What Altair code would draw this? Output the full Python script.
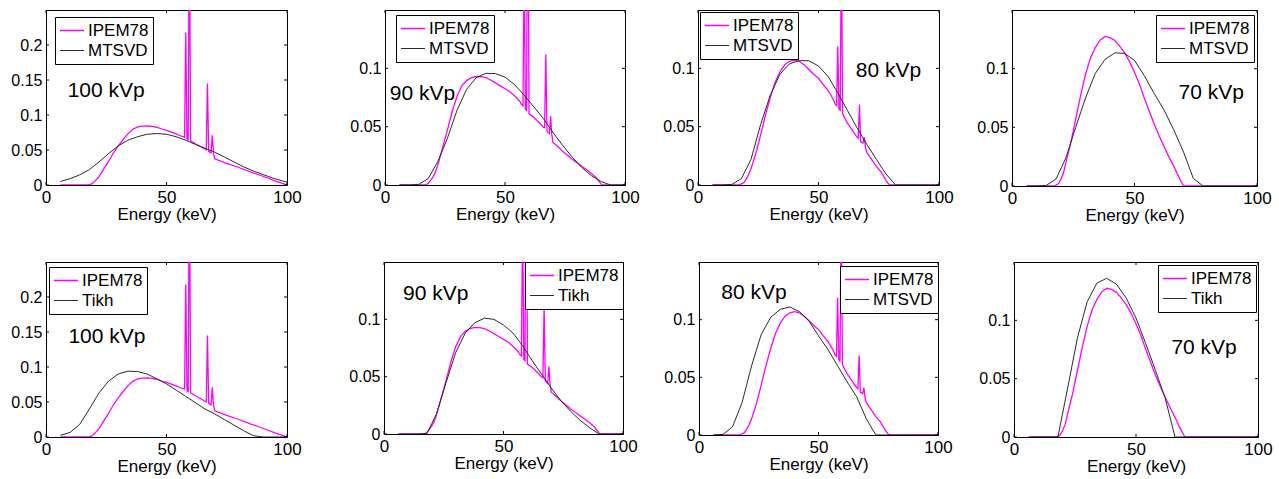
import altair as alt
import pandas as pd

FONT = "Liberation Sans"
PINK = "#ff00ff"
DARK = "#2a2a2a"

XTICKS = [0, 50, 100]
YTICKS_100 = [0, 0.05, 0.1, 0.15, 0.2]
YTICKS = [0, 0.05, 0.1]

# ---- IPEM78 reference spectra ----
E_IPEM100 = [6, 17, 18, 19, 20, 21, 22, 24, 26, 28, 30, 32, 34, 36, 38, 40, 42, 44, 46, 48, 50, 52, 54, 56,
             57, 57.5, 58, 58.5, 59, 59.5, 60, 62, 64, 66, 66.5, 67, 67.5, 68, 68.5, 69, 69.5, 70,
             75, 80, 85, 90, 95, 100]
V_IPEM100 = [0, 0, 0.0005, 0.0015, 0.0045, 0.008, 0.012, 0.023, 0.034, 0.046, 0.056, 0.065, 0.073, 0.0795,
             0.083, 0.084, 0.0843, 0.0838, 0.0825, 0.080, 0.078, 0.0755, 0.073, 0.070,
             0.069, 0.0685, 0.218, 0.066, 0.065, 0.40, 0.063, 0.059, 0.055, 0.051, 0.050, 0.145, 0.048,
             0.047, 0.046, 0.071, 0.045, 0.0375, 0.031, 0.025, 0.0185, 0.0125, 0.006, 0]

E_IPEM90 = [6, 17, 18, 19, 20, 21, 22, 24, 26, 28, 30, 32, 34, 36, 38, 40, 42, 44, 46, 48, 50, 52, 54, 56,
            57, 57.5, 58, 58.5, 59, 59.5, 60, 62, 64, 66, 66.5, 67, 67.5, 68, 68.5, 69, 69.5, 70,
            72, 74, 76, 78, 80, 82, 84, 86, 88, 89, 90, 91, 100]
V_IPEM90 = [0, 0, 0.0015, 0.004, 0.007, 0.011, 0.017, 0.032, 0.047, 0.063, 0.076, 0.085, 0.0895, 0.092,
            0.093, 0.0928, 0.092, 0.090, 0.0875, 0.085, 0.0825, 0.080, 0.0765, 0.072,
            0.069, 0.068, 0.19, 0.065, 0.064, 0.33, 0.061, 0.058, 0.054, 0.0495, 0.049, 0.112, 0.046,
            0.045, 0.044, 0.059, 0.043, 0.0365, 0.033, 0.029, 0.0255, 0.022, 0.019, 0.016, 0.013,
            0.0098, 0.0063, 0.0035, 0.0008, 0, 0]

E_IPEM80 = [6, 17, 18, 19, 20, 21, 22, 24, 26, 28, 30, 32, 34, 36, 38, 40, 42, 44, 46, 48, 50, 52, 54, 56,
            57, 57.5, 58, 58.5, 59, 59.5, 60, 62, 64, 66, 66.5, 67, 67.5, 68, 68.5, 69, 69.5, 70,
            72, 74, 76, 78, 79, 80, 100]
V_IPEM80 = [0, 0, 0.001, 0.002, 0.005, 0.009, 0.014, 0.027, 0.043, 0.060, 0.075, 0.088, 0.097, 0.103,
            0.106, 0.107, 0.106, 0.103, 0.099, 0.095, 0.0915, 0.086, 0.081, 0.074,
            0.069, 0.068, 0.119, 0.065, 0.064, 0.21, 0.061, 0.053, 0.047, 0.041, 0.040, 0.069, 0.037,
            0.0365, 0.036, 0.041, 0.032, 0.028, 0.022, 0.016, 0.011, 0.004, 0.001, 0, 0]

E_IPEM70 = [6, 17, 18, 19, 20, 21, 22, 24, 26, 28, 30, 32, 34, 36, 38, 40, 42, 44, 46, 48, 50, 52, 54, 56,
            58, 60, 62, 64, 66, 68, 70, 100]
V_IPEM70 = [0, 0, 0.0008, 0.002, 0.006, 0.011, 0.020, 0.037, 0.057, 0.077, 0.095, 0.109, 0.118, 0.1245,
            0.1275, 0.1265, 0.124, 0.119, 0.1135, 0.106, 0.097, 0.087, 0.075, 0.064,
            0.053, 0.043, 0.034, 0.025, 0.017, 0.008, 0, 0]

# ---- reconstructed spectra ----
E_REC = [6, 10, 14, 18, 22, 26, 30, 34, 38, 42, 46, 50, 54, 58, 62, 66, 70, 74, 78, 82, 86, 90, 94, 98, 100]
MTSVD100 = [0.005, 0.009, 0.0145, 0.022, 0.033, 0.045, 0.056, 0.064, 0.069, 0.0725, 0.0735, 0.0725, 0.069,
            0.064, 0.058, 0.0525, 0.047, 0.040, 0.033, 0.026, 0.020, 0.015, 0.010, 0.006, 0.004]
MTSVD90 = [0, 0, 0.0005, 0.0055, 0.020, 0.040, 0.064, 0.082, 0.092, 0.0957, 0.0955, 0.0925, 0.086,
           0.077, 0.067, 0.057, 0.045, 0.034, 0.024, 0.015, 0.008, 0.003, 0, 0, 0]
MTSVD80 = [0, 0, 0.0005, 0.0055, 0.022, 0.052, 0.077, 0.095, 0.104, 0.1066, 0.1065, 0.102, 0.093,
           0.079, 0.064, 0.049, 0.035, 0.022, 0.0095, 0, 0, 0, 0, 0, 0]
MTSVD70 = [0, 0, 0.0005, 0.006, 0.024, 0.050, 0.075, 0.096, 0.108, 0.1135, 0.113, 0.107, 0.094,
           0.079, 0.065, 0.048, 0.029, 0.0065, 0, 0, 0, 0, 0, 0, 0]
TIKH100 = [0.0025, 0.0065, 0.018, 0.040, 0.063, 0.080, 0.090, 0.094, 0.0935, 0.090, 0.083, 0.076, 0.067,
           0.058, 0.049, 0.040, 0.033, 0.025, 0.017, 0.009, 0.002, 0, 0, 0, 0]
TIKH90 = [0, 0, 0, 0.0005, 0.0176, 0.045, 0.071, 0.088, 0.097, 0.101, 0.100, 0.095, 0.088,
          0.077, 0.064, 0.052, 0.040, 0.029, 0.020, 0.012, 0.0055, 0, 0, 0, 0]
MTSVD80_B = [0, 0.0005, 0.007, 0.028, 0.060, 0.087, 0.102, 0.109, 0.111, 0.107, 0.099, 0.086, 0.074,
             0.060, 0.046, 0.033, 0.014, 0, 0, 0, 0, 0, 0, 0, 0]
TIKH70 = [0, 0, 0, 0, 0.042, 0.085, 0.116, 0.132, 0.136, 0.131, 0.119, 0.102, 0.080,
          0.057, 0.033, 0, 0, 0, 0, 0, 0, 0, 0, 0, 0]

# panel labels
KVP_LABELS = ["100 kVp", "90 kVp", "80 kVp", "70 kVp", "100 kVp", "90 kVp", "80 kVp", "70 kVp"]
REC_NAMES = ["MTSVD", "MTSVD", "MTSVD", "MTSVD", "Tikh", "Tikh", "MTSVD", "Tikh"]


def panel(ipem_e, ipem_v, rec_e, rec_v, rec_name, kvp, ann_x, ann_y, ymax, yticks,
          leg_x, leg_y, w, h):
    df = pd.DataFrame({
        "E": list(ipem_e) + list(rec_e),
        "v": list(ipem_v) + list(rec_v),
        "series": ["IPEM78"] * len(ipem_e) + [rec_name] * len(rec_e),
    })
    xs = alt.Scale(domain=[0, 100], nice=False, zero=False)
    ys = alt.Scale(domain=[0, ymax], nice=False, zero=False)
    xax = alt.Axis(values=XTICKS, title="Energy (keV)", format="d")
    yax = alt.Axis(values=yticks, title=None, format="~g")

    lines = alt.Chart(df).mark_line(clip=True).encode(
        x=alt.X("E:Q", scale=xs, axis=xax),
        y=alt.Y("v:Q", scale=ys, axis=yax),
        color=alt.Color("series:N",
                        scale=alt.Scale(domain=["IPEM78", rec_name], range=[PINK, DARK]),
                        legend=alt.Legend(title=None, orient="none", legendX=leg_x, legendY=leg_y,
                                          direction="vertical")),
        strokeWidth=alt.StrokeWidth("series:N",
                                    scale=alt.Scale(domain=["IPEM78", rec_name], range=[1.3, 1.0]),
                                    legend=None),
    )
    xt = pd.DataFrame({"E": XTICKS})
    yt = pd.DataFrame({"v": yticks})
    tick_b = alt.Chart(xt).mark_rule(color="black", strokeWidth=1).encode(
        x=alt.X("E:Q", scale=xs, axis=xax), y=alt.value(h), y2=alt.value(h - 3))
    tick_t = alt.Chart(xt).mark_rule(color="black", strokeWidth=1).encode(
        x=alt.X("E:Q", scale=xs, axis=xax), y=alt.value(0), y2=alt.value(3))
    tick_l = alt.Chart(yt).mark_rule(color="black", strokeWidth=1).encode(
        y=alt.Y("v:Q", scale=ys, axis=yax), x=alt.value(0), x2=alt.value(3))
    tick_r = alt.Chart(yt).mark_rule(color="black", strokeWidth=1).encode(
        y=alt.Y("v:Q", scale=ys, axis=yax), x=alt.value(w - 3), x2=alt.value(w))
    ann = alt.Chart(pd.DataFrame({"E": [ann_x], "v": [ann_y], "t": [kvp]})).mark_text(
        align="left", baseline="middle", font=FONT, fontSize=21, color="black").encode(
        x=alt.X("E:Q", scale=xs, axis=xax), y=alt.Y("v:Q", scale=ys, axis=yax), text="t:N")
    return alt.layer(lines, tick_b, tick_t, tick_l, tick_r, ann).properties(width=w, height=h)


p1 = panel(E_IPEM100, V_IPEM100, E_REC, MTSVD100, REC_NAMES[0], KVP_LABELS[0], 9, 0.134, 0.25, YTICKS_100, 9, 7, 241, 175)
p2 = panel(E_IPEM90, V_IPEM90, E_REC, MTSVD90, REC_NAMES[1], KVP_LABELS[1], 2, 0.078, 0.15, YTICKS, 11, 5, 240, 175)
p3 = panel(E_IPEM80, V_IPEM80, E_REC, MTSVD80, REC_NAMES[2], KVP_LABELS[2], 65.5, 0.098, 0.15, YTICKS, 2, 2, 241, 175)
p4 = panel(E_IPEM70, V_IPEM70, E_REC, MTSVD70, REC_NAMES[3], KVP_LABELS[3], 68, 0.079, 0.15, YTICKS, 144, 5, 245, 176)
p5 = panel(E_IPEM100, V_IPEM100, E_REC, TIKH100, REC_NAMES[4], KVP_LABELS[4], 9.3, 0.143, 0.25, YTICKS_100, 3, 5, 241, 175)
p6 = panel(E_IPEM90, V_IPEM90, E_REC, TIKH90, REC_NAMES[5], KVP_LABELS[5], 8, 0.122, 0.15, YTICKS, 141, 0, 239, 172)
p7 = panel(E_IPEM80, V_IPEM80, E_REC, MTSVD80_B, REC_NAMES[6], KVP_LABELS[6], 9.3, 0.123, 0.15, YTICKS, 141, 4, 239, 173)
p8 = panel(E_IPEM70, V_IPEM70, E_REC, TIKH70, REC_NAMES[7], KVP_LABELS[7], 64.5, 0.076, 0.15, YTICKS, 144, 3, 244, 175)


def indep(c):
    return c.resolve_scale(x="independent", y="independent", color="independent",
                           strokeWidth="independent").resolve_legend(color="independent")


row1 = indep(alt.hconcat(p1, indep(alt.hconcat(p2, p3, p4, spacing=73, bounds="flush")),
                         spacing=98, bounds="flush"))
row2 = indep(alt.hconcat(p5, indep(alt.hconcat(p6, p7, p8, spacing=76, bounds="flush")),
                         spacing=97, bounds="flush"))

chart = indep(alt.vconcat(row1, row2, spacing=37)).properties(
    padding={"left": 10, "top": 9, "right": 0, "bottom": 0}
).configure_view(stroke="black", strokeWidth=1).configure_axis(
    labelFont=FONT, labelFontSize=16, labelColor="black",
    titleFont=FONT, titleFontSize=17, titleFontWeight="normal", titleColor="black",
    domain=False, ticks=False, tickSize=0, grid=False, labelPadding=4, titlePadding=1,
    labelFlush=False,
).configure_axisX(labelFontSize=17).configure_legend(
    labelFont=FONT, labelFontSize=17, labelColor="black",
    symbolType="stroke", symbolSize=576, symbolStrokeWidth=1.3,
    strokeColor="black", fillColor="white", padding=4, rowPadding=1, clipHeight=19,
    labelOffset=3, cornerRadius=0,
)

chart.save("out.html", embed_options={"renderer": "svg", "actions": False})
